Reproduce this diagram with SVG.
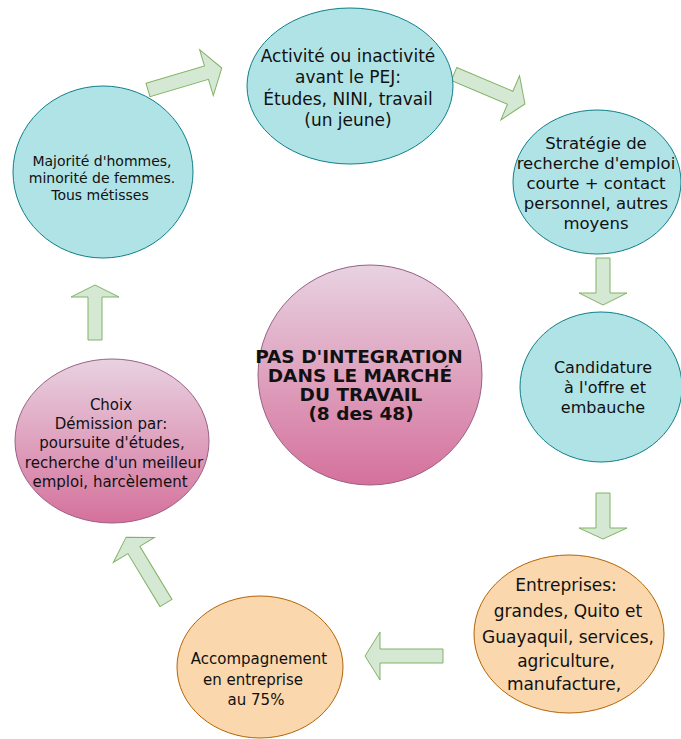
<svg xmlns="http://www.w3.org/2000/svg" width="681" height="739" viewBox="0 0 681 739">
<defs>
<linearGradient id="pink" x1="0" y1="0" x2="0" y2="1">
<stop offset="0" stop-color="#e8d2e1"/>
<stop offset="1" stop-color="#d5719c"/>
</linearGradient>
<style>
.blue{fill:#b0e3e6;stroke:#0e8088;stroke-width:1}
.orange{fill:#fad7ac;stroke:#b46504;stroke-width:1}
.pink{fill:url(#pink);stroke:#996185;stroke-width:1}
.arr{fill:#d5e8d4;stroke:#82b366;stroke-width:1;stroke-linejoin:miter}
text{font-family:"DejaVu Sans","Verdana",sans-serif;fill:#111;text-anchor:middle}
.t14{font-size:14px}
.t15{font-size:15px}
.t16{font-size:16px}
.t165{font-size:16.5px}
.t17{font-size:17px}
.bold{font-size:18.5px;font-weight:bold}
</style>
</defs>
<rect width="681" height="739" fill="#ffffff"/>
<g id="connectors">
<polygon class="arr" transform="translate(148,90) rotate(-16.6)" points="0,-7 61,-7 61,-24 77,0 61,24 61,7 0,7"/>
<polygon class="arr" transform="translate(454,74) rotate(22.9)" points="0,-7 61,-7 61,-24 77,0 61,24 61,7 0,7"/>
<polygon class="arr" transform="translate(603,258) rotate(90)" points="0,-7 35,-7 35,-24 47,0 35,24 35,7 0,7"/>
<polygon class="arr" transform="translate(603,493) rotate(90)" points="0,-7 35,-7 35,-24 46,0 35,24 35,7 0,7"/>
<polygon class="arr" transform="translate(443,656) rotate(180)" points="0,-7 63,-7 63,-24 78,0 63,24 63,7 0,7"/>
<polygon class="arr" transform="translate(166,603) rotate(-121.2)" points="0,-7 62,-7 62,-24 77,0 62,24 62,7 0,7"/>
<polygon class="arr" transform="translate(95,340) rotate(-90)" points="0,-7 43,-7 43,-24 55,0 43,24 43,7 0,7"/>
</g>
<g id="majorite">
<ellipse class="blue" cx="103" cy="172" rx="90" ry="86"/>
<text class="t14" x="102" y="166">Majorité d'hommes,</text>
<text class="t14" x="102" y="183">minorité de femmes.</text>
<text class="t14" x="100" y="200">Tous métisses</text>
</g>
<g id="activite">
<ellipse class="blue" cx="350" cy="86" rx="103" ry="78"/>
<text class="t17" x="348" y="62">Activité ou inactivité</text>
<text class="t17" x="348" y="83">avant le PEJ:</text>
<text class="t17" x="348" y="105">Études, NINI, travail</text>
<text class="t17" x="348" y="126">(un jeune)</text>
</g>
<g id="strategie">
<ellipse class="blue" cx="597" cy="182" rx="84" ry="72"/>
<text class="t165" x="596" y="149">Stratégie de</text>
<text class="t165" x="596" y="169">recherche d'emploi</text>
<text class="t165" x="596" y="189">courte + contact</text>
<text class="t165" x="596" y="209">personnel, autres</text>
<text class="t165" x="596" y="229">moyens</text>
</g>
<g id="candidature">
<ellipse class="blue" cx="601" cy="387" rx="81" ry="75"/>
<text class="t16" x="603" y="373">Candidature</text>
<text class="t16" x="605" y="393">à l'offre et</text>
<text class="t16" x="603" y="413">embauche</text>
</g>
<g id="centre">
<ellipse class="pink" cx="370" cy="375" rx="112" ry="110"/>
<text class="bold" x="359" y="363">PAS D'INTEGRATION</text>
<text class="bold" x="360" y="382">DANS LE MARCHÉ</text>
<text class="bold" x="361" y="401">DU TRAVAIL</text>
<text class="bold" x="361" y="420">(8 des 48)</text>
</g>
<g id="choix">
<ellipse class="pink" cx="112" cy="441" rx="97" ry="82"/>
<text class="t15" x="111" y="410">Choix</text>
<text class="t15" x="111" y="429">Démission par:</text>
<text class="t15" x="112" y="448">poursuite d'études,</text>
<text class="t15" x="114" y="468">recherche d'un meilleur</text>
<text class="t15" x="110" y="487">emploi, harcèlement</text>
</g>
<g id="entreprises">
<ellipse class="orange" cx="569" cy="634" rx="95" ry="79"/>
<text class="t17" x="566" y="591">Entreprises:</text>
<text class="t17" x="568" y="617">grandes, Quito et</text>
<text class="t17" x="568" y="643">Guayaquil, services,</text>
<text class="t17" x="566" y="667">agriculture,</text>
<text class="t17" x="564" y="690">manufacture,</text>
</g>
<g id="accompagnement">
<ellipse class="orange" cx="260" cy="667" rx="83" ry="71"/>
<text class="t15" x="259" y="664">Accompagnement</text>
<text class="t15" x="253" y="685">en entreprise</text>
<text class="t15" x="256" y="705">au 75%</text>
</g>
</svg>
